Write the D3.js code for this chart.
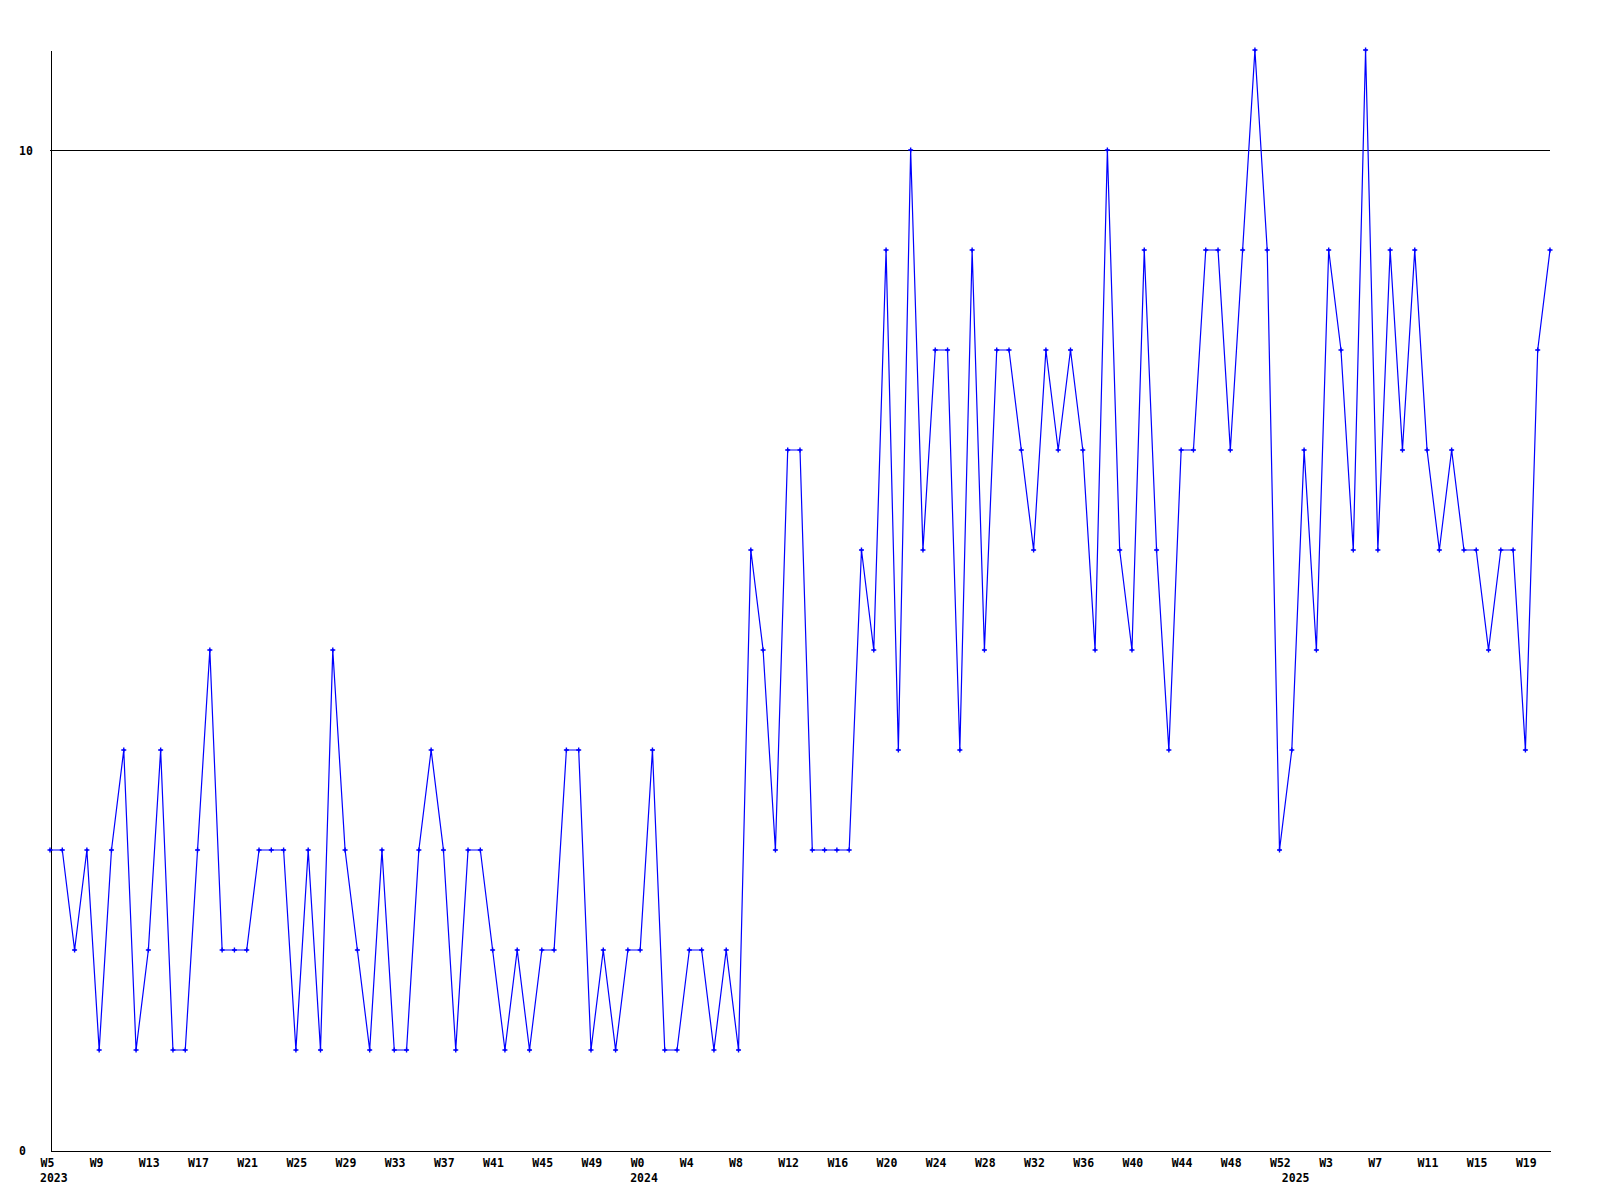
<!DOCTYPE html>
<html>
<head>
<meta charset="utf-8">
<script src="https://cdn.jsdelivr.net/npm/d3@7/dist/d3.min.js"></script>
<style>
  html, body { margin: 0; padding: 0; background: #fff; }
  svg { display: block; }
  .lbl { font-family: "DejaVu Sans Mono", "Liberation Mono", monospace; font-weight: bold; font-size: 11.5px; fill: #000; }
</style>
</head>
<body>
<svg id="chart" width="1600" height="1200"></svg>
<script>
// ---- data ----
const years = ["2023", "2024", "2025"];
const weeks2023 = [5,6,7,8,9,10,11,12,13,14,15,16,17,18,19,20,21,22,23,24,25,26,27,28,29,30,31,32,33,34,35,36,37,38,39,40,41,42,43,44,45,46,47,48,49,50,51,52];
const weeks2024 = [0,1,2,3,4,5,6,7,8,9,10,11,12,13,14,15,16,17,18,19,20,21,22,23,24,25,26,27,28,29,30,31,32,33,34,35,36,37,38,39,40,41,42,43,44,45,46,47,48,49,50,51,52];
const weeks2025 = [0,1,2,3,4,5,6,7,8,9,10,11,12,13,14,15,16,17,18,19,20,21];
const values = [
  3,3,2,3,1,3,4,1,2,4,1,1,3,5,2,2,2,3,3,3,1,3,1,5,3,2,1,3,1,1,
  3,4,3,1,3,3,2,1,2,1,2,2,4,4,1,2,1,2,2,4,1,1,2,2,1,2,1,6,5,3,
  7,7,3,3,3,3,6,5,9,4,10,6,8,8,4,9,5,8,8,7,6,8,7,8,7,5,10,6,5,9,
  6,4,7,7,9,9,7,9,11,9,3,4,7,5,9,8,6,11,6,9,7,9,7,6,7,6,6,5,6,6,
  4,8,9
];
const yTickValues = [0, 10];
const gridValues = [10];
const tickEvery = 4;

// ---- build categories ----
const categories = [];
weeks2023.forEach(w => categories.push({ year: years[0], week: "W" + w }));
weeks2024.forEach(w => categories.push({ year: years[1], week: "W" + w }));
weeks2025.forEach(w => categories.push({ year: years[2], week: "W" + w }));
const data = values.map((v, i) => ({ i, v, cat: categories[i] }));

// ---- layout ----
const svg = d3.select("#chart");
const x = d3.scaleLinear().domain([0, values.length - 1]).range([50, 1550]);
const y = d3.scaleLinear().domain([0, 11]).range([1150, 50]);

// gridline at 10
svg.append("g").selectAll("line").data(gridValues).join("line")
  .attr("x1", x(0)).attr("x2", x(values.length - 1))
  .attr("y1", d => Math.round(y(d)) + 0.5).attr("y2", d => Math.round(y(d)) + 0.5)
  .attr("stroke", "#000").attr("stroke-width", 1).attr("shape-rendering", "crispEdges");

// y axis
const yAxis = d3.axisLeft(y).tickValues(yTickValues).tickSize(0).tickSizeOuter(0).tickFormat(d3.format("d"));
const gy = svg.append("g").attr("transform", "translate(50.5,0)").call(yAxis);
gy.select(".domain").attr("stroke", "#000").attr("shape-rendering", "crispEdges");
gy.selectAll(".tick text").attr("class", "lbl").attr("text-anchor", "start")
  .attr("x", 19 - 50.5).attr("dy", "0.35em").style("font-family", null).style("font-size", null);
gy.attr("font-family", null).attr("font-size", null);

// x axis
const tickIdx = d3.range(0, values.length, tickEvery);
const xAxis = d3.axisBottom(x).tickValues(tickIdx).tickSize(0).tickSizeOuter(0)
  .tickFormat(i => categories[i].week);
const gx = svg.append("g").attr("transform", "translate(0,1150.5)").call(xAxis);
gx.attr("font-family", null).attr("font-size", null);
gx.select(".domain").attr("stroke", "#000").attr("shape-rendering", "crispEdges");
gx.selectAll(".tick text").attr("class", "lbl").attr("text-anchor", "start")
  .attr("x", -10).attr("y", 16.5).attr("dy", null);

// year labels at first week of each year
const yearStarts = years.map(yr => categories.findIndex(c => c.year === yr));
svg.append("g").selectAll("text").data(yearStarts).join("text")
  .attr("class", "lbl")
  .attr("x", i => x(i) - 10)
  .attr("y", 1182)
  .text(i => categories[i].year);

// line
const line = d3.line().x(d => x(d.i)).y(d => y(d.v));
svg.append("path").datum(data)
  .attr("fill", "none").attr("stroke", "#0000ff").attr("stroke-width", 1.2)
  .attr("d", line);

// markers
const mk = svg.append("g").selectAll("g").data(data).join("g")
  .attr("transform", d => `translate(${x(d.i)},${y(d.v)})`);
mk.append("path").attr("d", "M-2.5,0H2.5M0,-2.5V2.5")
  .attr("stroke", "#0000ff").attr("stroke-width", 1.4).attr("fill", "none");
mk.append("rect").attr("x", -1).attr("y", -1).attr("width", 2).attr("height", 2).attr("fill", "#0000ff");
</script>
</body>
</html>
